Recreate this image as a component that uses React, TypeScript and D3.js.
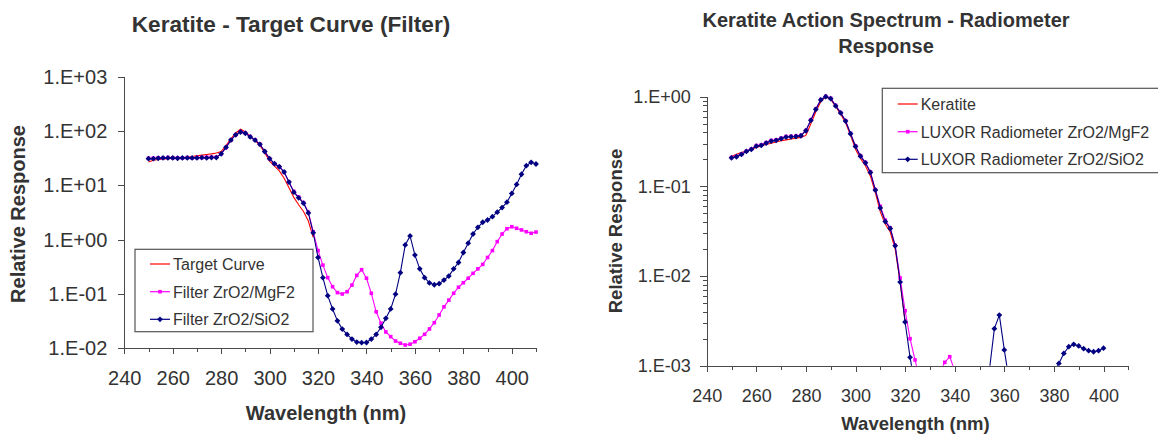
import React, { useEffect, useRef } from "react";
import * as d3 from "d3";

// wavelengths (nm), 2 nm steps
const wavelengths = [
  250, 252, 254, 256, 258, 260, 262, 264, 266, 268, 270, 272, 274, 276, 278,
  280, 282, 284, 286, 288, 290, 292, 294, 296, 298, 300, 302, 304, 306, 308,
  310, 312, 314, 316, 318, 320, 322, 324, 326, 328, 330, 332, 334, 336, 338,
  340, 342, 344, 346, 348, 350, 352, 354, 356, 358, 360, 362, 364, 366, 368,
  370, 372, 374, 376, 378, 380, 382, 384, 386, 388, 390, 392, 394, 396, 398,
  400, 402, 404, 406, 408, 410,
];

// left chart: Keratite - Target Curve (Filter)
const targetCurve = [
  27, 29, 30, 30.5, 31, 31.5, 32, 32.5, 33, 34, 35, 36, 37, 38, 39.5,
  42, 54, 72, 92, 108, 96, 80, 67, 54, 40, 28, 22.5, 18.5, 13.5, 9,
  6, 4.4, 3.3, 2.2, 1.1,
];
const filterMgF2 = [
  31.5, 31.5, 32, 32, 32.5, 32, 32, 32, 32.5, 32, 32.5, 32.5, 33, 33, 33,
  38, 50, 68, 86, 97, 91, 79, 69, 57, 42, 31, 25, 22, 17.5, 11.5,
  7.7, 6.1, 4.8, 3.2, 1.4, 0.63, 0.34, 0.2, 0.136, 0.106, 0.1, 0.11, 0.146, 0.22, 0.28,
  0.195, 0.103, 0.047, 0.029, 0.02, 0.0164, 0.0136, 0.0124, 0.0115, 0.0119, 0.0132, 0.0153, 0.0181, 0.0227, 0.0296,
  0.041, 0.058, 0.077, 0.103, 0.133, 0.161, 0.195, 0.24, 0.29, 0.35, 0.47, 0.63, 0.92, 1.27, 1.59,
  1.73, 1.62, 1.51, 1.4, 1.31, 1.38,
];
const filterSiO2 = [
  31, 31, 31.5, 32, 32, 32, 31.5, 32, 32, 32, 32, 32.5, 32, 32.5, 32.5,
  38, 50, 68, 85, 96, 91, 78, 68, 57, 42, 31, 25, 22, 17.6, 11.5,
  7.5, 5.9, 4.7, 3.1, 1.34, 0.47, 0.2, 0.093, 0.053, 0.032, 0.0226, 0.018, 0.0148, 0.013, 0.0127,
  0.0128, 0.0148, 0.018, 0.0244, 0.0356, 0.053, 0.099, 0.247, 0.8, 1.17, 0.52, 0.29, 0.2, 0.16, 0.148,
  0.155, 0.18, 0.214, 0.29, 0.38, 0.58, 0.86, 1.27, 1.69, 2.09, 2.3, 2.65, 3.2, 3.9, 4.9,
  7.1, 10.4, 16, 23, 26.5, 24.7,
];

// right chart: Keratite Action Spectrum - Radiometer Response
const keratite = [
  0.215, 0.228, 0.238, 0.248, 0.26, 0.272, 0.283, 0.293, 0.303, 0.313, 0.322, 0.33, 0.338, 0.345, 0.352,
  0.37, 0.5, 0.68, 0.88, 1.0, 0.93, 0.78, 0.64, 0.51, 0.37, 0.26, 0.205, 0.17, 0.13, 0.085,
  0.052, 0.038, 0.031, 0.02, 0.0085, 0.0031,
];
const luxorMgF2 = [
  0.21, 0.216, 0.228, 0.247, 0.26, 0.285, 0.29, 0.308, 0.325, 0.33, 0.345, 0.36, 0.362, 0.364, 0.37,
  0.42, 0.55, 0.73, 0.93, 1.01, 0.96, 0.8, 0.665, 0.54, 0.39, 0.283, 0.22, 0.185, 0.145, 0.092,
  0.06, 0.042, 0.0345, 0.022, 0.0095, 0.0041, 0.002, 0.00116, 0.0007, 0.0005, 0.0004, 0.0005, 0.00085, 0.00109, 0.00126,
  0.00088, 0.0005, 0.00025, 0.00015, 0.0001, 0.00008, 0.00007, 0.00006, 0.00006, 0.00006, 0.00007, 0.00008, 0.0001, 0.00012, 0.00015,
  0.0002, 0.00025, 0.0003, 0.00035, 0.0004, 0.00045, 0.0005, 0.00055, 0.0006, 0.00065, 0.0007, 0.00075, 0.0008, 0.00085, 0.0009,
  0.0009,
];
const luxorSiO2 = [
  0.208, 0.214, 0.227, 0.245, 0.258, 0.281, 0.286, 0.304, 0.32, 0.326, 0.34, 0.355, 0.357, 0.36, 0.367,
  0.417, 0.545, 0.723, 0.92, 1.0, 0.95, 0.79, 0.66, 0.535, 0.386, 0.279, 0.217, 0.183, 0.143, 0.0908,
  0.0575, 0.0405, 0.0339, 0.0217, 0.00857, 0.00307, 0.00124, 0.0006, 0.0003, 0.00018, 0.00014, 0.00012, 0.0001, 0.0001, 0.0001,
  0.00011, 0.00013, 0.00016, 0.00021, 0.0003, 0.00042, 0.0006, 0.0009, 0.00259, 0.00367, 0.0015, 0.00067, 0.0004, 0.0003, 0.00026,
  0.00027, 0.0003, 0.00036, 0.00045, 0.00062, 0.00086, 0.00106, 0.00137, 0.00163, 0.00173, 0.00166, 0.00155, 0.00147, 0.00143, 0.00147,
  0.00157,
];

const xMajorTicks = [240, 260, 280, 300, 320, 340, 360, 380, 400];
const xMinorTicks = [250, 270, 290, 310, 330, 350, 370, 390, 410];

const FONT = "'Liberation Sans', Arial, Helvetica, sans-serif";
const TEXT = "#333333";
const AXIS = "#4a4a4a";
const RED = "#ff0000";
const MAGENTA = "#ff00ff";
const NAVY = "#000080";

const expLabel = (v: number) => {
  const e = Math.round(Math.log10(v));
  return `1.E${e < 0 ? "-" : "+"}${String(Math.abs(e)).padStart(2, "0")}`;
};

const toPoints = (vals: number[]) => vals.map((v, i) => ({ wl: wavelengths[i], v }));

function drawMarker(g: any, kind: string, cx: number, cy: number, color: string) {
  if (kind === "square") {
    g.append("rect")
      .attr("x", cx - 1.8)
      .attr("y", cy - 1.8)
      .attr("width", 3.6)
      .attr("height", 3.6)
      .attr("fill", color);
  } else if (kind === "diamond") {
    const r = 2.9;
    g.append("path")
      .attr("d", `M${cx},${cy - r}L${cx + r},${cy}L${cx},${cy + r}L${cx - r},${cy}Z`)
      .attr("fill", color);
  }
}

function drawChart(svg: any, cfg: any) {
  const x = d3.scaleLinear().domain([240, 410]).range([cfg.x0, cfg.x1]);
  const y = d3.scaleLog().domain(cfg.yDomain).range([cfg.yBot, cfg.yTop]);
  const g = svg.append("g");

  svg
    .append("defs")
    .append("clipPath")
    .attr("id", cfg.id)
    .append("rect")
    .attr("x", cfg.x0)
    .attr("y", cfg.yTop - 8)
    .attr("width", cfg.x1 - cfg.x0 + 6)
    .attr("height", cfg.yBot - cfg.yTop + 8);

  // x axis
  const xMinor = g
    .append("g")
    .attr("transform", `translate(0,${cfg.yBot})`)
    .call(d3.axisBottom(x).tickValues(xMinorTicks).tickSize(4).tickSizeOuter(0).tickFormat(() => ""));
  xMinor.select(".domain").remove();
  const xAxis = g
    .append("g")
    .attr("transform", `translate(0,${cfg.yBot})`)
    .call(
      d3
        .axisBottom(x)
        .tickValues(xMajorTicks)
        .tickSize(6)
        .tickSizeOuter(0)
        .tickPadding(cfg.xPad)
        .tickFormat(d3.format("d"))
    );

  // y axis
  if (cfg.yMinor) {
    const yMinor = g
      .append("g")
      .attr("transform", `translate(${cfg.x0},0)`)
      .call(d3.axisLeft(y).tickValues(cfg.yMinor).tickSize(4).tickSizeOuter(0).tickFormat(() => ""));
    yMinor.select(".domain").remove();
  }
  const yAxis = g
    .append("g")
    .attr("transform", `translate(${cfg.x0},0)`)
    .call(
      d3
        .axisLeft(y)
        .tickValues(cfg.yTicks)
        .tickSize(cfg.yTickSize)
        .tickSizeOuter(0)
        .tickPadding(cfg.yPad)
        .tickFormat((d: any) => expLabel(d))
    );

  [xMinor, xAxis, yAxis, g.selectAll("g")].forEach((a) => {
    a.selectAll("line").attr("stroke", AXIS).attr("shape-rendering", "crispEdges");
    a.selectAll("path.domain").attr("stroke", AXIS).attr("shape-rendering", "crispEdges");
  });
  [xAxis, yAxis].forEach((a) => {
    a.attr("font-family", FONT).attr("font-size", cfg.tickFont);
    a.selectAll("text").attr("fill", TEXT);
  });

  // series
  const plot = g.append("g").attr("clip-path", `url(#${cfg.id})`);
  const line = d3
    .line<any>()
    .x((d) => x(d.wl))
    .y((d) => y(Math.max(d.v, 1e-9)));
  cfg.series.forEach((s: any) => {
    const pts = toPoints(s.values);
    plot
      .append("path")
      .attr("d", line(pts))
      .attr("fill", "none")
      .attr("stroke", s.color)
      .attr("stroke-width", 1.1);
    if (s.marker) {
      pts.forEach((p) => drawMarker(plot, s.marker, x(p.wl), y(Math.max(p.v, 1e-9)), s.color));
    }
  });

  // titles
  cfg.title.forEach((t: any) => {
    svg
      .append("text")
      .attr("x", cfg.titleX)
      .attr("y", t.y)
      .attr("text-anchor", "middle")
      .attr("font-family", FONT)
      .attr("font-weight", "bold")
      .attr("font-size", cfg.titleFont)
      .attr("fill", TEXT)
      .text(t.text);
  });
  svg
    .append("text")
    .attr("x", cfg.xTitle[0])
    .attr("y", cfg.xTitle[1])
    .attr("text-anchor", "middle")
    .attr("font-family", FONT)
    .attr("font-weight", "bold")
    .attr("font-size", cfg.axisTitleFont)
    .attr("fill", TEXT)
    .text("Wavelength (nm)");
  svg
    .append("text")
    .attr("transform", `translate(${cfg.yTitle[0]},${cfg.yTitle[1]}) rotate(-90)`)
    .attr("text-anchor", "middle")
    .attr("font-family", FONT)
    .attr("font-weight", "bold")
    .attr("font-size", cfg.axisTitleFont)
    .attr("fill", TEXT)
    .text("Relative Response");

  // legend
  const lg = cfg.legend;
  svg
    .append("rect")
    .attr("x", lg.x)
    .attr("y", lg.y)
    .attr("width", lg.w)
    .attr("height", lg.h)
    .attr("fill", "#fff")
    .attr("stroke", "#555")
    .attr("stroke-width", 1.2);
  cfg.series.forEach((s: any, i: number) => {
    const cy = lg.rows[i];
    svg
      .append("line")
      .attr("x1", lg.lineX)
      .attr("x2", lg.lineX + 20)
      .attr("y1", cy)
      .attr("y2", cy)
      .attr("stroke", s.color)
      .attr("stroke-width", 1.2);
    if (s.marker) drawMarker(svg, s.marker, lg.lineX + 10, cy, s.color);
    svg
      .append("text")
      .attr("x", lg.lineX + 23)
      .attr("y", cy + 5.8)
      .attr("font-family", FONT)
      .attr("font-size", 16)
      .attr("fill", TEXT)
      .text(s.name);
  });
}

export default function App() {
  const svgRef = useRef<SVGSVGElement>(null);

  useEffect(() => {
    const svg = d3.select(svgRef.current);
    svg.selectAll("*").remove();

    drawChart(svg, {
      id: "clipLeft",
      x0: 124.3,
      x1: 536,
      yTop: 76.7,
      yBot: 348.3,
      yDomain: [0.01, 1000],
      yTicks: [0.01, 0.1, 1, 10, 100, 1000],
      yTickSize: 6,
      yPad: 11,
      xPad: 17,
      tickFont: 20,
      titleFont: 22.6,
      axisTitleFont: 20,
      titleX: 291,
      title: [{ text: "Keratite - Target Curve (Filter)", y: 31.5 }],
      xTitle: [326, 420],
      yTitle: [25, 214],
      series: [
        { name: "Target Curve", values: targetCurve, color: RED },
        { name: "Filter ZrO2/MgF2", values: filterMgF2, color: MAGENTA, marker: "square" },
        { name: "Filter ZrO2/SiO2", values: filterSiO2, color: NAVY, marker: "diamond" },
      ],
      legend: { x: 135, y: 249.3, w: 178, h: 82.4, lineX: 150, rows: [264, 291.7, 319.3] },
    });

    const rightMinor: number[] = [];
    [0.001, 0.01, 0.1].forEach((d) => {
      for (let k = 2; k <= 9; k++) rightMinor.push(d * k);
    });

    drawChart(svg, {
      id: "clipRight",
      x0: 706.7,
      x1: 1128.3,
      yTop: 96.7,
      yBot: 365.7,
      yDomain: [0.001, 1],
      yTicks: [0.001, 0.01, 0.1, 1],
      yMinor: rightMinor,
      yTickSize: 7,
      yPad: 9,
      xPad: 17.5,
      tickFont: 18,
      titleFont: 20,
      axisTitleFont: 18.5,
      titleX: 886,
      title: [
        { text: "Keratite Action Spectrum - Radiometer", y: 27 },
        { text: "Response", y: 53 },
      ],
      xTitle: [915.5, 430],
      yTitle: [622, 231],
      series: [
        { name: "Keratite", values: keratite, color: RED },
        { name: "LUXOR Radiometer ZrO2/MgF2", values: luxorMgF2, color: MAGENTA, marker: "square" },
        { name: "LUXOR Radiometer ZrO2/SiO2", values: luxorSiO2, color: NAVY, marker: "diamond" },
      ],
      legend: { x: 882.3, y: 88.3, w: 300, h: 84.4, lineX: 897.7, rows: [104, 131.7, 159.3] },
    });
  }, []);

  return (
    <svg
      ref={svgRef}
      width={1158}
      height={435}
      style={{ position: "absolute", left: 0, top: 0, background: "#fff" }}
    />
  );
}
